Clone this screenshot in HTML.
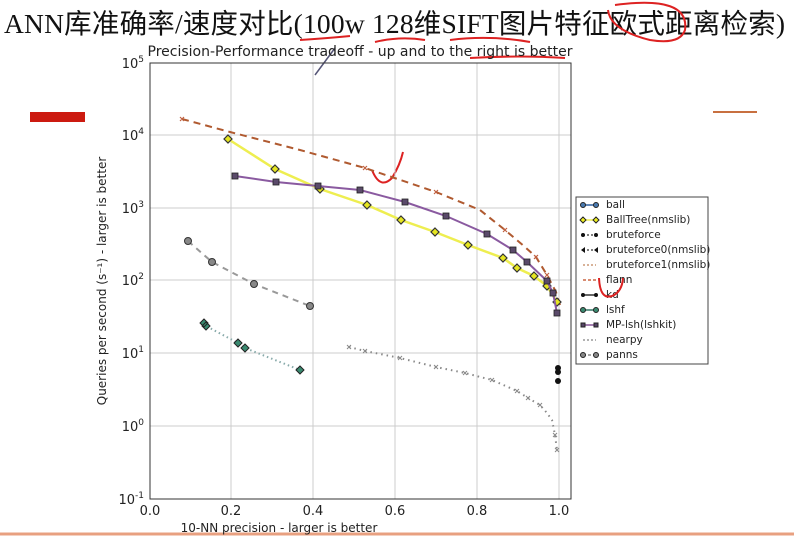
<!DOCTYPE html>
<html><head><meta charset="utf-8"><style>
body{margin:0;width:794px;height:536px;background:#fff;overflow:hidden;position:relative;font-family:"Liberation Sans","DejaVu Sans",sans-serif}
.t{position:absolute;left:4px;top:1px;font-family:"Liberation Serif","Noto Sans CJK SC",serif;font-size:27.5px;color:#111;white-space:nowrap;letter-spacing:0.2px}
</style></head><body>
<div class="t">ANN库准确率/速度对比(100w 128维SIFT图片特征欧式距离检索)</div>
<svg width="794" height="536" style="position:absolute;left:0;top:0" font-family="DejaVu Sans, Liberation Sans, sans-serif">
<path d="M300 40 Q330 38 350 36 M375 42 Q400 36 425 40 M450 40 Q490 35 530 42 M470 58 Q520 55 565 58" stroke="#d22" stroke-width="2" fill="none"/>
<path d="M615 5 Q690 -5 685 30 Q680 45 650 40 Q610 30 608 10" stroke="#d22" stroke-width="2" fill="none"/>
<rect x="30" y="112" width="55" height="10" fill="#cc1a10"/>
<line x1="713" y1="112" x2="757" y2="112" stroke="#c87040" stroke-width="2"/>
<line x1="0" y1="534" x2="794" y2="534" stroke="#e8a080" stroke-width="3"/>
<path d="M372 170 Q380 190 392 178 Q400 165 403 152" stroke="#d22" stroke-width="2" fill="none"/>
<path d="M315 75 L335 48" stroke="#557" stroke-width="1.5"/>
<text x="360" y="56" font-size="14" text-anchor="middle" fill="#222">Precision-Performance tradeoff - up and to the right is better</text>
<g stroke="#ccc" stroke-width="1">
<line x1="231" y1="63" x2="231" y2="499"/><line x1="313" y1="63" x2="313" y2="499"/><line x1="395" y1="63" x2="395" y2="499"/><line x1="477" y1="63" x2="477" y2="499"/><line x1="559" y1="63" x2="559" y2="499"/>
<line x1="150" y1="135" x2="571" y2="135"/><line x1="150" y1="208" x2="571" y2="208"/><line x1="150" y1="280" x2="571" y2="280"/><line x1="150" y1="353" x2="571" y2="353"/><line x1="150" y1="426" x2="571" y2="426"/>
</g>
<rect x="150" y="63" width="421" height="436" fill="none" stroke="#333" stroke-width="1"/>
<g font-size="13" fill="#222" text-anchor="middle">
<text x="150" y="515">0.0</text><text x="231" y="515">0.2</text><text x="313" y="515">0.4</text><text x="395" y="515">0.6</text><text x="477" y="515">0.8</text><text x="559" y="515">1.0</text>
<text x="279" y="532" font-size="12">10-NN precision - larger is better</text>
</g>
<g font-size="13" fill="#222" text-anchor="end">
<text x="144" y="68">10<tspan dy="-6" font-size="9">5</tspan></text>
<text x="144" y="140">10<tspan dy="-6" font-size="9">4</tspan></text>
<text x="144" y="213">10<tspan dy="-6" font-size="9">3</tspan></text>
<text x="144" y="285">10<tspan dy="-6" font-size="9">2</tspan></text>
<text x="144" y="358">10<tspan dy="-6" font-size="9">1</tspan></text>
<text x="144" y="431">10<tspan dy="-6" font-size="9">0</tspan></text>
<text x="144" y="504">10<tspan dy="-6" font-size="9">-1</tspan></text>
</g>
<text transform="translate(106,281) rotate(-90)" font-size="12" fill="#222" text-anchor="middle">Queries per second (s⁻¹) - larger is better</text>
<polyline points="182,119 230,132 300,150 365,168 436,192 480,210 505,230 525,247 536,257 547,275 556,292 560,305" fill="none" stroke="#b05a30" stroke-width="2" stroke-dasharray="7,5"/>
<g stroke="#c06040" stroke-width="1.2"><path d="M180,117l4,4M184,117l-4,4M363,166l4,4M367,166l-4,4M434,190l4,4M438,190l-4,4M503,228l4,4M507,228l-4,4M534,255l4,4M538,255l-4,4M545,273l4,4M549,273l-4,4"/></g>
<polyline points="228,139 275,169 320,189 367,205 401,220 435,232 468,245 503,258 517,268 534,276 547,286 557,302" fill="none" stroke="#eeee50" stroke-width="2.5"/>
<g fill="#e6e620" stroke="#333" stroke-width="1.2">
<path d="M228,135l4,4l-4,4l-4,-4z M275,165l4,4l-4,4l-4,-4z M320,185l4,4l-4,4l-4,-4z M367,201l4,4l-4,4l-4,-4z M401,216l4,4l-4,4l-4,-4z M435,228l4,4l-4,4l-4,-4z M468,241l4,4l-4,4l-4,-4z M503,254l4,4l-4,4l-4,-4z M517,264l4,4l-4,4l-4,-4z M534,272l4,4l-4,4l-4,-4z M547,282l4,4l-4,4l-4,-4z M557,298l4,4l-4,4l-4,-4z"/></g>
<polyline points="235,176 276,182 318,186 360,190 405,202 446,216 487,234 513,250 527,262 547,281 553,293 557,313" fill="none" stroke="#8a5aa0" stroke-width="2"/>
<g fill="#5a4a6a" stroke="#222" stroke-width="0.8">
<rect x="232" y="173" width="6" height="6"/><rect x="273" y="179" width="6" height="6"/><rect x="315" y="183" width="6" height="6"/><rect x="357" y="187" width="6" height="6"/><rect x="402" y="199" width="6" height="6"/><rect x="443" y="213" width="6" height="6"/><rect x="484" y="231" width="6" height="6"/><rect x="510" y="247" width="6" height="6"/><rect x="524" y="259" width="6" height="6"/><rect x="544" y="278" width="6" height="6"/><rect x="550" y="290" width="6" height="6"/><rect x="554" y="310" width="6" height="6"/></g>
<polyline points="188,241 212,262 254,284 310,306" fill="none" stroke="#999" stroke-width="2" stroke-dasharray="6,5"/>
<g fill="#888" stroke="#333" stroke-width="1"><circle cx="188" cy="241" r="3.5"/><circle cx="212" cy="262" r="3.5"/><circle cx="254" cy="284" r="3.5"/><circle cx="310" cy="306" r="3.5"/></g>
<polyline points="204,323 206,326 238,343 245,348 300,370" fill="none" stroke="#8aa" stroke-width="2" stroke-dasharray="1.5,3"/>
<g fill="#3a8a70" stroke="#222" stroke-width="1"><path d="M204,319l4,4l-4,4l-4,-4z M206,322l4,4l-4,4l-4,-4z M238,339l4,4l-4,4l-4,-4z M245,344l4,4l-4,4l-4,-4z M300,366l4,4l-4,4l-4,-4z"/></g>
<polyline points="349,347 365,351 400,358 436,367 465,373 492,380 517,391 528,398 540,405 547,413 552,420 555,435 557,450" fill="none" stroke="#888" stroke-width="2" stroke-dasharray="1.5,4"/>
<g stroke="#888" stroke-width="1"><path d="M347,345l4,4M351,345l-4,4M363,349l4,4M367,349l-4,4M398,356l4,4M402,356l-4,4M434,365l4,4M438,365l-4,4M463,371l4,4M467,371l-4,4M490,378l4,4M494,378l-4,4M515,389l4,4M519,389l-4,4M526,396l4,4M530,396l-4,4M538,403l4,4M542,403l-4,4M553,433l4,4M557,433l-4,4M555,448l4,4M559,448l-4,4"/></g>
<g fill="#111"><circle cx="558" cy="368" r="3"/><circle cx="558" cy="372" r="3"/><circle cx="558" cy="381" r="3"/></g>
<rect x="576" y="197" width="132" height="167" fill="#fff" stroke="#444" stroke-width="1"/>
<g font-size="10.5" fill="#222">
<text x="606" y="208">ball</text><text x="606" y="223">BallTree(nmslib)</text><text x="606" y="238">bruteforce</text><text x="606" y="253">bruteforce0(nmslib)</text><text x="606" y="268">bruteforce1(nmslib)</text><text x="606" y="283">flann</text><text x="606" y="298">kd</text><text x="606" y="313">lshf</text><text x="606" y="328">MP-lsh(lshkit)</text><text x="606" y="343">nearpy</text><text x="606" y="358">panns</text>
</g>
<g stroke-width="1.5">
<line x1="583" y1="205" x2="596" y2="205" stroke="#3060a0"/><line x1="583" y1="220" x2="596" y2="220" stroke="#ee5"/>
<line x1="583" y1="235" x2="596" y2="235" stroke="#555" stroke-dasharray="2,2"/><line x1="583" y1="250" x2="596" y2="250" stroke="#555" stroke-dasharray="2,2"/>
<line x1="583" y1="265" x2="596" y2="265" stroke="#c97" stroke-dasharray="2,2"/><line x1="583" y1="280" x2="596" y2="280" stroke="#c64" stroke-dasharray="3,2"/>
<line x1="583" y1="295" x2="596" y2="295" stroke="#333"/><line x1="583" y1="310" x2="596" y2="310" stroke="#376"/>
<line x1="583" y1="325" x2="596" y2="325" stroke="#859"/><line x1="583" y1="340" x2="596" y2="340" stroke="#999" stroke-dasharray="2,2"/>
<line x1="583" y1="355" x2="596" y2="355" stroke="#888" stroke-dasharray="3,2"/>
</g>
<g stroke="#222" stroke-width="1">
<circle cx="583" cy="205" r="2.5" fill="#4a7ab0"/><circle cx="596" cy="205" r="2.5" fill="#4a7ab0"/>
<path d="M583,217l3,3l-3,3l-3,-3z M596,217l3,3l-3,3l-3,-3z" fill="#ee2"/>
<circle cx="583" cy="310" r="2.5" fill="#3a8a70"/><circle cx="596" cy="310" r="2.5" fill="#3a8a70"/>
<rect x="581" y="323" width="4" height="4" fill="#546"/><rect x="594" y="323" width="4" height="4" fill="#546"/>
<circle cx="583" cy="355" r="2.5" fill="#888"/><circle cx="596" cy="355" r="2.5" fill="#888"/>
</g>
<g fill="#111"><circle cx="583" cy="235" r="2"/><circle cx="596" cy="235" r="2"/><path d="M585,247v6l-4,-3z M598,247v6l-4,-3z"/><circle cx="583" cy="295" r="2"/><circle cx="596" cy="295" r="2"/></g>
<path d="M599,278 Q600,300 612,296 Q622,292 623,278" stroke="#d22" stroke-width="2" fill="none"/>
</svg>
</body></html>
